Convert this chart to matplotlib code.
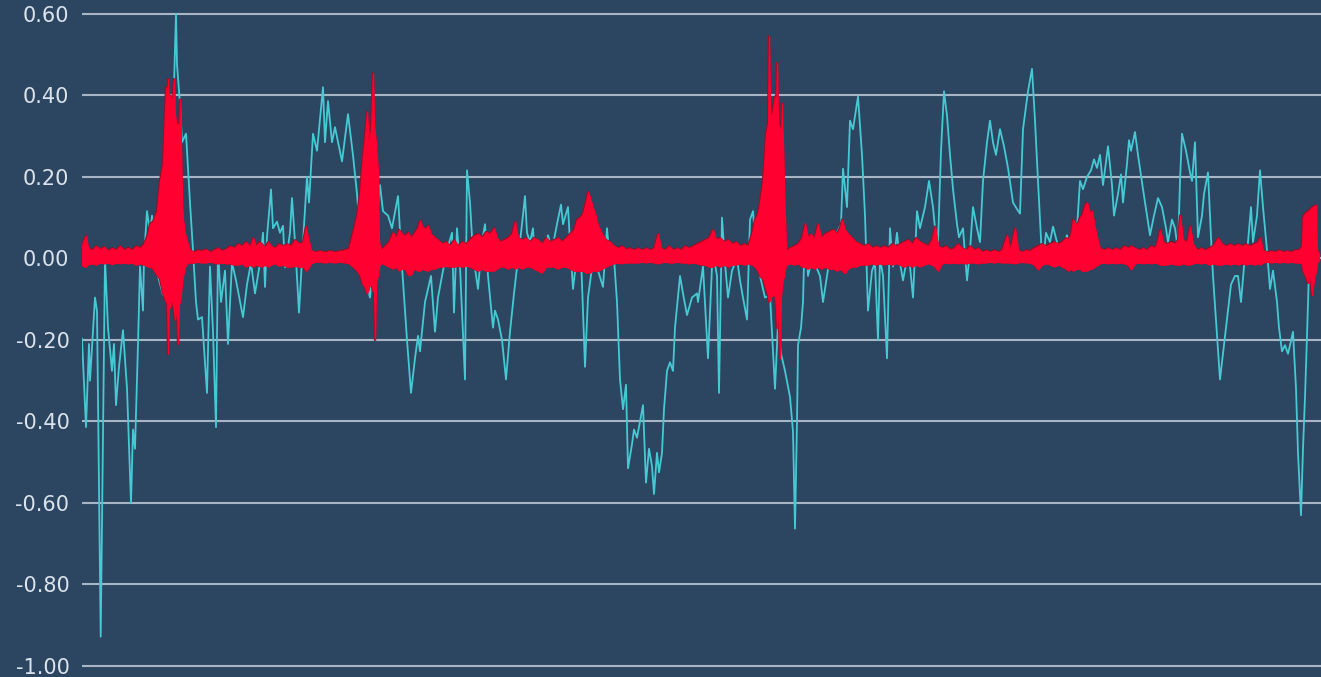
import numpy as np
import matplotlib
matplotlib.use("Agg")
import matplotlib.pyplot as plt

# cyan trace: frame index -> value
cyan_t = [82, 86, 89, 90, 95, 97, 100.7, 105, 108, 112, 114, 116, 119, 123, 127, 131, 133, 135, 138, 140,
          143, 144, 147, 150, 152, 155, 158, 163, 168, 172, 176, 177, 180, 182, 186, 190, 193, 196, 198, 202,
          207, 210, 213, 216, 218, 221, 225, 228, 232, 236, 243, 247, 251, 255, 260, 263, 265, 267, 271, 273,
          277, 280, 283, 285, 290, 292, 295, 299, 303, 307, 309, 313, 317, 323, 325, 328, 332, 335, 342, 348,
          353, 357, 362, 367, 370, 375, 380, 383, 388, 392, 398, 402, 407, 411, 415, 418, 420, 425, 431, 435,
          438, 442, 447, 452, 454, 457, 460, 465, 467, 470, 473, 478, 482, 485, 488, 493, 495, 498, 502, 506,
          510, 514, 518, 522, 525, 527, 530, 533, 535, 538, 543, 548, 552, 557, 561, 563, 568, 570, 573, 576,
          580, 585, 588, 592, 595, 598, 603, 607, 610, 614, 617, 620, 623, 626, 628, 632, 634, 637, 640, 643,
          646, 649, 652, 654, 657, 659, 662, 664, 667, 670, 673, 675, 680, 683, 687, 692, 697, 698, 703, 708,
          712, 714, 717, 719, 722, 725, 728, 732, 737, 740, 743, 747, 750, 753, 757, 760, 765, 770, 775, 778,
          781, 785, 790, 793, 795, 797, 798, 801, 803, 805, 808, 812, 816, 820, 823, 827, 832, 837, 841, 843,
          847, 850, 853, 858, 862, 865, 868, 872, 875, 878, 880, 883, 887, 890, 893, 897, 900, 903, 907, 910,
          913, 915, 917, 920, 925, 929, 933, 935, 938, 941, 944, 947, 950, 953, 957, 959, 963, 967, 970, 973,
          977, 980, 983, 987, 990, 993, 996, 1000, 1004, 1008, 1013, 1017, 1020, 1023, 1028, 1032, 1035, 1038, 1042, 1043,
          1046, 1050, 1053, 1057, 1059, 1063, 1067, 1070, 1073, 1077, 1080, 1083, 1087, 1091, 1094, 1097, 1100, 1103, 1108, 1112,
          1114, 1118, 1121, 1123, 1127, 1129, 1131, 1135, 1138, 1143, 1147, 1150, 1154, 1158, 1162, 1166, 1168, 1172, 1175, 1178,
          1180, 1182, 1186, 1190, 1192, 1195, 1198, 1202, 1204, 1208, 1211, 1213, 1217, 1220, 1223, 1227, 1231, 1235, 1238, 1241,
          1244, 1248, 1251, 1253, 1257, 1260, 1263, 1267, 1270, 1273, 1277, 1279, 1282, 1285, 1288, 1290, 1293, 1296, 1298, 1301,
          1303, 1305, 1307, 1309, 1311]
cyan_v = [-0.197, -0.414, -0.21, -0.30, -0.096, -0.13, -0.928, 0.0, -0.17, -0.276, -0.21, -0.36, -0.266, -0.176, -0.319, -0.60, -0.42, -0.467, -0.21, -0.02,
          -0.128, 0.0, 0.116, 0.063, 0.105, 0.06, -0.043, -0.09, -0.05, 0.25, 0.60, 0.476, 0.38, 0.285, 0.306, 0.137, 0.02, -0.107, -0.15, -0.144,
          -0.33, -0.02, -0.18, -0.414, 0.02, -0.107, -0.03, -0.21, -0.01, -0.054, -0.144, -0.064, -0.011, -0.086, -0.011, 0.063, -0.07, 0.053, 0.169, 0.074,
          0.09, 0.063, 0.08, -0.022, 0.063, 0.148, 0.04, -0.133, 0.04, 0.20, 0.137, 0.306, 0.264, 0.42, 0.285, 0.386, 0.285, 0.322, 0.238, 0.354,
          0.253, 0.158, 0.0, -0.065, -0.096, 0.04, 0.18, 0.116, 0.105, 0.074, 0.153, -0.02, -0.20, -0.33, -0.245, -0.19, -0.228, -0.107, -0.043, -0.18,
          -0.096, -0.043, 0.02, 0.063, -0.133, 0.074, -0.02, -0.297, 0.216, 0.137, 0.01, -0.075, 0.04, 0.084, -0.043, -0.17, -0.128, -0.15, -0.20, -0.297,
          -0.18, -0.086, 0.0, 0.084, 0.153, 0.063, 0.04, 0.074, -0.02, 0.01, -0.011, 0.057, 0.02, 0.084, 0.132, 0.084, 0.126, 0.04, -0.075, -0.011,
          0.074, -0.266, -0.096, -0.022, 0.0, -0.03, -0.07, 0.074, -0.011, 0.0, -0.107, -0.297, -0.37, -0.31, -0.515, -0.456, -0.42, -0.44, -0.40, -0.36,
          -0.55, -0.467, -0.51, -0.578, -0.477, -0.525, -0.477, -0.37, -0.276, -0.255, -0.276, -0.17, -0.043, -0.086, -0.139, -0.096, -0.086, -0.107, -0.02, -0.245,
          -0.02, 0.0, -0.043, -0.33, 0.10, -0.011, -0.096, -0.03, 0.0, -0.054, -0.096, -0.15, 0.095, 0.116, -0.011, -0.043, -0.096, -0.09, -0.32, -0.16,
          -0.234, -0.276, -0.34, -0.425, -0.663, -0.40, -0.213, -0.17, -0.107, 0.084, -0.043, 0.0, -0.02, -0.043, -0.107, -0.043, 0.04, 0.063, 0.084, 0.22,
          0.126, 0.338, 0.317, 0.397, 0.254, 0.105, -0.128, -0.03, -0.011, -0.20, 0.0, -0.043, -0.245, 0.074, -0.02, 0.063, -0.011, -0.054, 0.0, -0.02,
          -0.096, 0.01, 0.116, 0.074, 0.126, 0.19, 0.126, 0.074, 0.04, 0.264, 0.41, 0.35, 0.254, 0.17, 0.084, 0.052, 0.074, -0.054, 0.02, 0.126,
          0.074, 0.04, 0.19, 0.285, 0.338, 0.285, 0.254, 0.317, 0.275, 0.222, 0.137, 0.121, 0.11, 0.317, 0.41, 0.465, 0.338, 0.19, 0.0, -0.011,
          0.063, 0.04, 0.078, 0.04, -0.011, 0.03, 0.057, 0.03, 0.084, 0.074, 0.19, 0.17, 0.20, 0.216, 0.243, 0.222, 0.254, 0.18, 0.275, 0.18,
          0.105, 0.158, 0.206, 0.137, 0.232, 0.29, 0.264, 0.31, 0.254, 0.17, 0.105, 0.057, 0.105, 0.148, 0.126, 0.074, 0.04, 0.095, 0.074, 0.02,
          0.19, 0.306, 0.264, 0.211, 0.19, 0.285, 0.052, 0.105, 0.158, 0.211, 0.052, -0.043, -0.19, -0.297, -0.234, -0.15, -0.064, -0.043, -0.043, -0.107,
          -0.02, 0.04, 0.126, 0.04, 0.105, 0.216, 0.126, 0.02, -0.075, -0.03, -0.107, -0.17, -0.228, -0.213, -0.234, -0.213, -0.18, -0.319, -0.477, -0.63,
          -0.467, -0.34, -0.19, -0.03, 0.0]

# red waveform envelope: frame index, upper peak, lower peak
red_t = [82, 84, 86, 88, 92, 96, 100, 104, 108, 112, 116, 120, 124, 128, 132, 136, 140, 144, 148, 150,
         153, 157, 160, 163, 166, 167, 168, 169, 170, 172, 174, 175, 177, 178, 179, 180, 182, 183, 185, 187,
         190, 194, 198, 202, 206, 210, 214, 218, 222, 226, 230, 234, 238, 242, 246, 250, 253, 256, 259, 262,
         265, 268, 271, 275, 279, 283, 287, 291, 295, 299, 303, 306, 308, 311, 315, 320, 325, 330, 335, 340,
         345, 349, 353, 357, 360, 363, 365, 367, 369, 371, 373, 374, 375, 376, 378, 379, 381, 385, 389, 393,
         396, 399, 402, 405, 408, 411, 414, 418, 420, 422, 425, 428, 431, 435, 438, 442, 446, 450, 454, 458,
         462, 466, 470, 474, 478, 482, 486, 490, 494, 497, 500, 504, 508, 512, 515, 518, 522, 526, 530, 534,
         538, 542, 546, 550, 554, 558, 562, 566, 570, 574, 577, 580, 583, 586, 588, 590, 592, 595, 598, 602,
         606, 610, 614, 618, 622, 626, 630, 634, 638, 642, 646, 650, 654, 658, 661, 665, 669, 673, 677, 681,
         685, 689, 693, 697, 701, 705, 709, 713, 716, 720, 724, 728, 732, 736, 740, 744, 748, 752, 755, 758,
         760, 763, 766, 768, 769, 770, 772, 775, 776, 777, 778, 780, 781, 782, 784, 786, 790, 794, 798, 802,
         805, 808, 811, 814, 818, 821, 825, 829, 833, 837, 840, 842, 845, 848, 852, 856, 860, 864, 868, 872,
         876, 880, 884, 888, 892, 896, 900, 904, 908, 912, 916, 920, 924, 928, 932, 935, 938, 942, 946, 950,
         954, 958, 962, 966, 970, 974, 978, 982, 986, 990, 994, 998, 1002, 1007, 1010, 1015, 1018, 1022, 1026, 1030,
         1034, 1038, 1042, 1046, 1050, 1054, 1058, 1062, 1066, 1068, 1071, 1073, 1077, 1080, 1082, 1085, 1087, 1090, 1092, 1095,
         1098, 1100, 1104, 1108, 1112, 1116, 1120, 1124, 1128, 1131, 1135, 1139, 1143, 1147, 1151, 1155, 1158, 1160, 1163, 1167,
         1171, 1175, 1178, 1180, 1183, 1187, 1190, 1193, 1197, 1201, 1205, 1209, 1213, 1218, 1222, 1226, 1230, 1234, 1238, 1242,
         1246, 1250, 1254, 1258, 1260, 1263, 1267, 1271, 1275, 1279, 1283, 1287, 1291, 1295, 1299, 1302, 1303, 1305, 1308, 1310,
         1312, 1314, 1316, 1317, 1319]
red_hi = [0.03, 0.045, 0.055, 0.025, 0.02, 0.03, 0.022, 0.028, 0.018, 0.025, 0.02, 0.03, 0.02, 0.026, 0.02, 0.03, 0.025, 0.035, 0.06, 0.085,
          0.09, 0.116, 0.19, 0.232, 0.42, 0.35, 0.44, 0.36, 0.40, 0.38, 0.44, 0.35, 0.317, 0.33, 0.30, 0.39, 0.148, 0.095, 0.06, 0.042,
          0.02, 0.015, 0.02, 0.018, 0.022, 0.015, 0.02, 0.025, 0.018, 0.022, 0.03, 0.025, 0.035, 0.03, 0.04, 0.028, 0.05, 0.03, 0.04, 0.035,
          0.025, 0.04, 0.03, 0.025, 0.035, 0.03, 0.035, 0.03, 0.045, 0.035, 0.04, 0.078, 0.05, 0.02, 0.015, 0.018, 0.015, 0.018, 0.015, 0.018,
          0.02, 0.025, 0.063, 0.105, 0.158, 0.253, 0.30, 0.36, 0.275, 0.317, 0.455, 0.33, 0.306, 0.28, 0.21, 0.04, 0.02, 0.03, 0.04, 0.063,
          0.05, 0.07, 0.06, 0.055, 0.063, 0.05, 0.06, 0.075, 0.093, 0.08, 0.07, 0.08, 0.06, 0.05, 0.045, 0.035, 0.04, 0.03, 0.045, 0.03,
          0.04, 0.035, 0.045, 0.055, 0.06, 0.05, 0.065, 0.06, 0.074, 0.05, 0.04, 0.045, 0.05, 0.06, 0.09, 0.05, 0.045, 0.05, 0.04, 0.05,
          0.045, 0.035, 0.05, 0.04, 0.045, 0.05, 0.04, 0.05, 0.06, 0.07, 0.095, 0.10, 0.11, 0.14, 0.163, 0.15, 0.13, 0.11, 0.08, 0.06,
          0.045, 0.04, 0.03, 0.025, 0.03, 0.022, 0.025, 0.02, 0.025, 0.02, 0.025, 0.02, 0.025, 0.06, 0.025, 0.02, 0.03, 0.02, 0.025, 0.02,
          0.03, 0.025, 0.03, 0.035, 0.04, 0.045, 0.05, 0.07, 0.045, 0.05, 0.04, 0.045, 0.035, 0.04, 0.03, 0.035, 0.03, 0.06, 0.095, 0.11,
          0.137, 0.19, 0.306, 0.33, 0.545, 0.36, 0.348, 0.397, 0.35, 0.48, 0.33, 0.317, 0.30, 0.38, 0.18, 0.02, 0.025, 0.03, 0.035, 0.05,
          0.084, 0.05, 0.06, 0.045, 0.084, 0.05, 0.06, 0.065, 0.07, 0.06, 0.075, 0.095, 0.07, 0.06, 0.05, 0.04, 0.035, 0.03, 0.035, 0.025,
          0.03, 0.025, 0.03, 0.025, 0.035, 0.03, 0.035, 0.04, 0.045, 0.035, 0.05, 0.04, 0.035, 0.03, 0.045, 0.078, 0.03, 0.025, 0.03, 0.02,
          0.025, 0.035, 0.025, 0.02, 0.03, 0.02, 0.025, 0.015, 0.02, 0.015, 0.02, 0.015, 0.02, 0.057, 0.02, 0.074, 0.02, 0.015, 0.02, 0.018,
          0.025, 0.03, 0.035, 0.03, 0.035, 0.04, 0.035, 0.04, 0.05, 0.045, 0.06, 0.095, 0.08, 0.10, 0.105, 0.13, 0.137, 0.11, 0.116, 0.074,
          0.04, 0.025, 0.02, 0.025, 0.02, 0.025, 0.02, 0.03, 0.025, 0.03, 0.025, 0.02, 0.025, 0.02, 0.03, 0.025, 0.045, 0.07, 0.04, 0.035,
          0.04, 0.035, 0.045, 0.105, 0.045, 0.04, 0.078, 0.035, 0.02, 0.025, 0.02, 0.025, 0.03, 0.05, 0.035, 0.03, 0.035, 0.03, 0.035, 0.03,
          0.035, 0.03, 0.035, 0.04, 0.05, 0.02, 0.015, 0.018, 0.015, 0.02, 0.015, 0.018, 0.015, 0.02, 0.02, 0.03, 0.10, 0.11, 0.115, 0.12,
          0.125, 0.128, 0.13, 0.02, 0.01]
red_lo = [-0.015, -0.02, -0.02, -0.015, -0.012, -0.015, -0.01, -0.012, -0.01, -0.014, -0.01, -0.012, -0.01, -0.012, -0.01, -0.015, -0.012, -0.015, -0.02, -0.02,
          -0.025, -0.04, -0.05, -0.086, -0.107, -0.09, -0.234, -0.10, -0.12, -0.096, -0.13, -0.15, -0.12, -0.21, -0.11, -0.107, -0.06, -0.043, -0.02, -0.012,
          -0.01, -0.01, -0.008, -0.01, -0.01, -0.008, -0.01, -0.012, -0.01, -0.012, -0.012, -0.015, -0.015, -0.012, -0.02, -0.015, -0.02, -0.015, -0.018, -0.02,
          -0.015, -0.02, -0.015, -0.012, -0.018, -0.015, -0.02, -0.02, -0.018, -0.02, -0.02, -0.03, -0.025, -0.012, -0.008, -0.008, -0.01, -0.008, -0.01, -0.008,
          -0.01, -0.012, -0.02, -0.03, -0.04, -0.064, -0.07, -0.086, -0.07, -0.06, -0.08, -0.07, -0.20, -0.06, -0.04, -0.02, -0.01, -0.015, -0.02, -0.025,
          -0.02, -0.03, -0.025, -0.025, -0.04, -0.04, -0.025, -0.03, -0.03, -0.025, -0.028, -0.03, -0.025, -0.025, -0.02, -0.02, -0.018, -0.02, -0.02, -0.018,
          -0.02, -0.018, -0.02, -0.025, -0.03, -0.025, -0.03, -0.03, -0.03, -0.025, -0.02, -0.02, -0.025, -0.02, -0.025, -0.02, -0.025, -0.02, -0.02, -0.025,
          -0.03, -0.035, -0.02, -0.02, -0.02, -0.025, -0.02, -0.02, -0.025, -0.03, -0.03, -0.03, -0.03, -0.035, -0.034, -0.035, -0.03, -0.03, -0.03, -0.025,
          -0.02, -0.015, -0.012, -0.01, -0.012, -0.01, -0.01, -0.01, -0.01, -0.008, -0.01, -0.008, -0.01, -0.012, -0.01, -0.008, -0.01, -0.01, -0.008, -0.01,
          -0.01, -0.012, -0.01, -0.012, -0.015, -0.015, -0.02, -0.02, -0.015, -0.02, -0.015, -0.02, -0.015, -0.015, -0.012, -0.015, -0.012, -0.015, -0.02, -0.03,
          -0.043, -0.05, -0.075, -0.09, -0.107, -0.10, -0.09, -0.09, -0.12, -0.17, -0.10, -0.245, -0.09, -0.064, -0.04, -0.015, -0.012, -0.015, -0.012, -0.02,
          -0.02, -0.025, -0.02, -0.025, -0.02, -0.025, -0.02, -0.025, -0.025, -0.03, -0.025, -0.03, -0.036, -0.025, -0.02, -0.02, -0.015, -0.015, -0.015, -0.012,
          -0.015, -0.012, -0.015, -0.012, -0.015, -0.012, -0.015, -0.02, -0.015, -0.02, -0.015, -0.02, -0.015, -0.012, -0.015, -0.02, -0.03, -0.012, -0.01, -0.012,
          -0.01, -0.012, -0.01, -0.012, -0.01, -0.01, -0.012, -0.01, -0.01, -0.008, -0.01, -0.008, -0.01, -0.01, -0.01, -0.012, -0.01, -0.008, -0.01, -0.01,
          -0.015, -0.027, -0.015, -0.012, -0.015, -0.02, -0.015, -0.02, -0.025, -0.03, -0.025, -0.03, -0.025, -0.025, -0.03, -0.03, -0.03, -0.025, -0.025, -0.02,
          -0.015, -0.012, -0.01, -0.012, -0.01, -0.012, -0.01, -0.012, -0.015, -0.027, -0.012, -0.01, -0.012, -0.01, -0.012, -0.01, -0.012, -0.015, -0.015, -0.015,
          -0.012, -0.015, -0.015, -0.015, -0.012, -0.015, -0.015, -0.012, -0.01, -0.012, -0.01, -0.015, -0.012, -0.015, -0.015, -0.012, -0.015, -0.012, -0.015, -0.012,
          -0.015, -0.012, -0.015, -0.012, -0.015, -0.01, -0.008, -0.01, -0.008, -0.01, -0.008, -0.01, -0.008, -0.01, -0.01, -0.012, -0.03, -0.04, -0.06, -0.04,
          -0.09, -0.05, -0.03, -0.01, -0.005]

y_ticks = [0.60, 0.40, 0.20, 0.00, -0.20, -0.40, -0.60, -0.80, -1.00]

BG = "#2c4661"
GRID = "#a7b5c4"
CYAN = "#45cad3"
RED = "#ff0030"
RED_DARK = "#9a0d26"

fig = plt.figure(figsize=(13.21, 6.77), dpi=100, facecolor=BG)
ax = fig.add_axes([82 / 1321, 0, 1 - 82 / 1321, 1])
ax.set_facecolor(BG)

ax.plot(cyan_t, cyan_v, color=CYAN, lw=1.3, zorder=3, solid_joinstyle="round")

# waveform body, with a darker rim along the peak envelope
ax.plot(red_t, red_hi, color=RED_DARK, lw=1.6, zorder=4)
ax.plot(red_t, red_lo, color=RED_DARK, lw=1.6, zorder=4)
ax.fill_between(red_t, red_hi, red_lo, facecolor=RED, edgecolor=RED, lw=0.9, zorder=5)

ax.set_xlim(82, 1321)
ax.set_ylim(-1.027, 0.634)
ax.set_yticks(y_ticks)
ax.set_yticklabels([f"{v:.2f}" for v in y_ticks])
ax.set_xticks([])
ax.grid(True, axis="y", color=GRID, lw=1.5, zorder=1)
ax.tick_params(axis="y", length=0, pad=9, labelsize=15, labelcolor="#dbe3ec")
for s in ax.spines.values():
    s.set_visible(False)

fig.savefig("out.png", dpi=100, facecolor=BG)
